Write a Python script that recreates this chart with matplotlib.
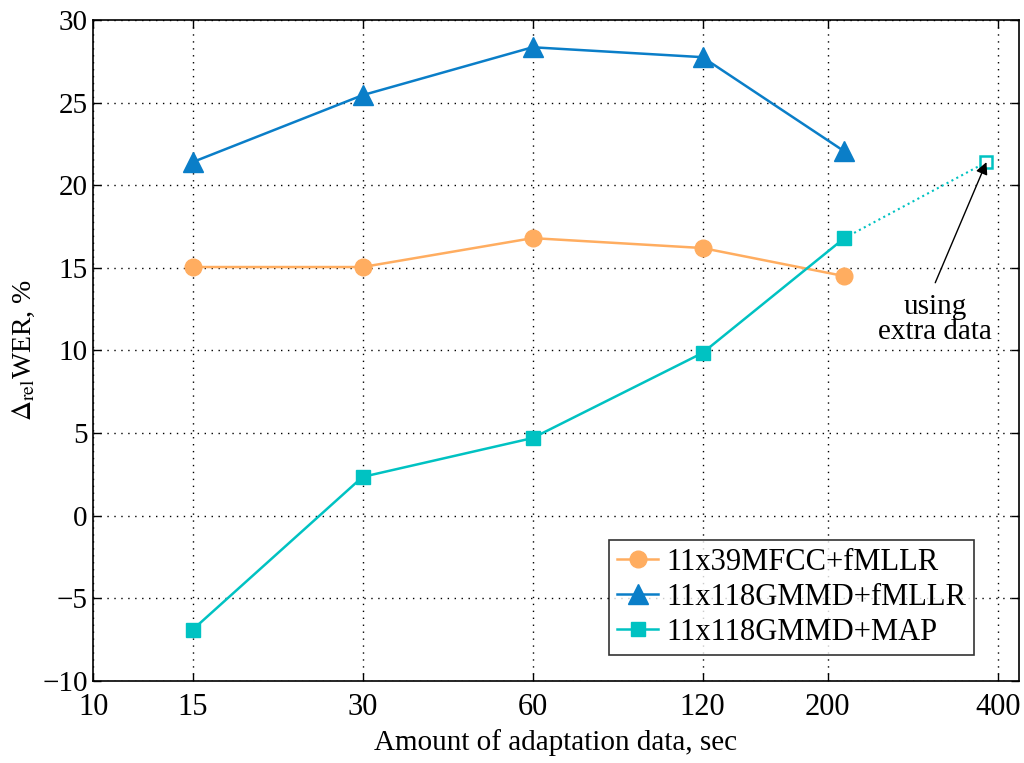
import matplotlib
matplotlib.use("Agg")
import matplotlib.pyplot as plt
from matplotlib.ticker import FixedLocator, FixedFormatter, NullLocator

plt.rcParams['font.family'] = ['Liberation Serif', 'DejaVu Serif']
plt.rcParams['mathtext.fontset'] = 'stix'

x_main = [15, 30, 60, 120, 214]
mfcc_fmllr = [15.05, 15.05, 16.8, 16.2, 14.5]
gmmd_fmllr = [21.4, 25.45, 28.35, 27.75, 22.05]
gmmd_map = [-6.9, 2.35, 4.7, 9.85, 16.8]
x_extra = 382
map_extra = 21.4

xticks = [10, 15, 30, 60, 120, 200, 400]
yticks = [-10, -5, 0, 5, 10, 15, 20, 25, 30]

c_orange = '#FFAD60'
c_blue = '#0A7EC8'
c_cyan = '#00C2C2'

fig = plt.figure(figsize=(10.24, 7.63), dpi=100)
ax = fig.add_axes([0.091, 0.1075, 0.904, 0.8663])

ax.plot(x_main, mfcc_fmllr, color=c_orange, lw=1.8, marker='o', ms=12,
        label='11x39MFCC+fMLLR')
ax.plot(x_main, gmmd_fmllr, color=c_blue, lw=1.8, marker='^', ms=14,
        label='11x118GMMD+fMLLR')
ax.plot(x_main, gmmd_map, color=c_cyan, lw=1.8, marker='s', ms=10,
        label='11x118GMMD+MAP')
ax.plot([x_main[-1], x_extra], [gmmd_map[-1], map_extra], color=c_cyan,
        lw=1.5, ls=':')
ax.plot([x_extra], [map_extra], color=c_cyan, marker='s', ms=9,
        mfc='white', mew=1.8, ls='none')

# annotation: text and arrow drawn separately
ax.text(310, 11.9, 'using\nextra data', ha='center', va='center',
        fontsize=21, linespacing=0.95)
ax.annotate('', xy=(x_extra, map_extra), xytext=(310, 14.1),
            arrowprops=dict(arrowstyle='-|>', color='black', lw=1,
                            mutation_scale=18, shrinkA=0, shrinkB=0))

ax.set_xscale('log')
ax.set_xlim(10, 436)
ax.set_ylim(-10, 30)
ax.xaxis.set_major_locator(FixedLocator(xticks))
ax.xaxis.set_major_formatter(FixedFormatter([str(t) for t in xticks]))
ax.xaxis.set_minor_locator(NullLocator())
ax.set_yticks(yticks)
ax.set_yticklabels([str(t).replace('-', '\u2212') for t in yticks])

ax.grid(True, color='black', ls=(0, (1, 4)), lw=1)
ax.tick_params(direction='in', top=True, right=True, length=6, width=1)
ax.tick_params(axis='y', labelsize=21, pad=4)
ax.tick_params(axis='x', labelsize=22, pad=9)
for s in ax.spines.values():
    s.set_linewidth(1.2)

ax.set_xlabel('Amount of adaptation data, sec', fontsize=21, labelpad=5)
ax.set_ylabel(r'$\Delta_{\mathrm{rel}}$WER, %', fontsize=20, labelpad=4)

leg = ax.legend(loc='lower right', bbox_to_anchor=(0.951, 0.04), fontsize=22,
                frameon=True, fancybox=False, edgecolor='black',
                handlelength=1.35, handletextpad=0.25, borderpad=0.25,
                labelspacing=0.2, borderaxespad=0)
leg.get_frame().set_linewidth(1.2)

fig.savefig('out.png', dpi=100)
